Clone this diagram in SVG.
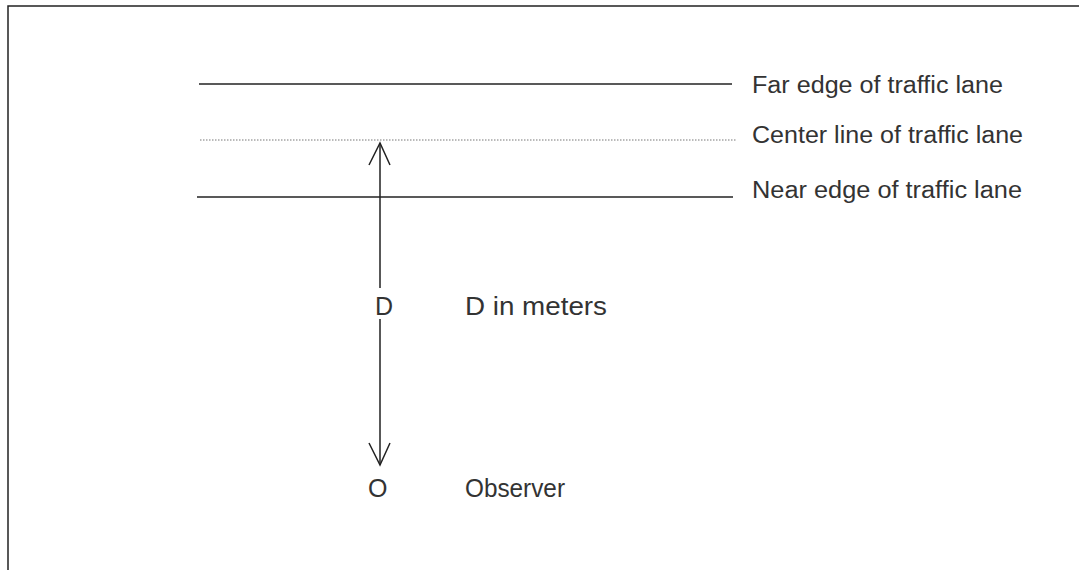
<svg xmlns="http://www.w3.org/2000/svg" width="1079" height="570" viewBox="0 0 1079 570">
<style>
.ln{stroke:#222;stroke-width:1.5;fill:none}
.dot{stroke:#777;stroke-width:1;stroke-dasharray:1.5 1.5;fill:none}
.t{font-family:"Liberation Sans",Arial,sans-serif;font-size:23px;fill:#333}
.b{font-size:25px}
</style>
<rect width="1079" height="570" fill="#fff"/>
<g id="frame">
<path class="ln" d="M8,570 V6 H1079" stroke-width="2"/>
</g>
<g id="far-edge">
<line class="ln" x1="199" y1="84" x2="732" y2="84"/>
<text class="t" x="752" y="93" textLength="251" lengthAdjust="spacingAndGlyphs">Far edge of traffic lane</text>
</g>
<g id="center-line">
<line class="dot" x1="200" y1="140" x2="737" y2="140"/>
<text class="t" x="752" y="143" textLength="271" lengthAdjust="spacingAndGlyphs">Center line of traffic lane</text>
</g>
<g id="near-edge">
<line class="ln" x1="197" y1="197" x2="733" y2="197"/>
<text class="t" x="752" y="198" textLength="270" lengthAdjust="spacingAndGlyphs">Near edge of traffic lane</text>
</g>
<g id="connectors">
<path class="ln" d="M380,143 V288 M380,319 V465"/>
<path class="ln" d="M369,165 L380,143 L390,165"/>
<path class="ln" d="M369,443 L380,465 L390,443"/>
</g>
<g id="distance">
<text class="t b" x="375" y="315">D</text>
<text class="t b" x="465" y="315" textLength="142" lengthAdjust="spacingAndGlyphs">D in meters</text>
</g>
<g id="observer">
<text class="t b" x="368" y="497">O</text>
<text class="t b" x="465" y="497" textLength="100" lengthAdjust="spacingAndGlyphs">Observer</text>
</g>
</svg>
